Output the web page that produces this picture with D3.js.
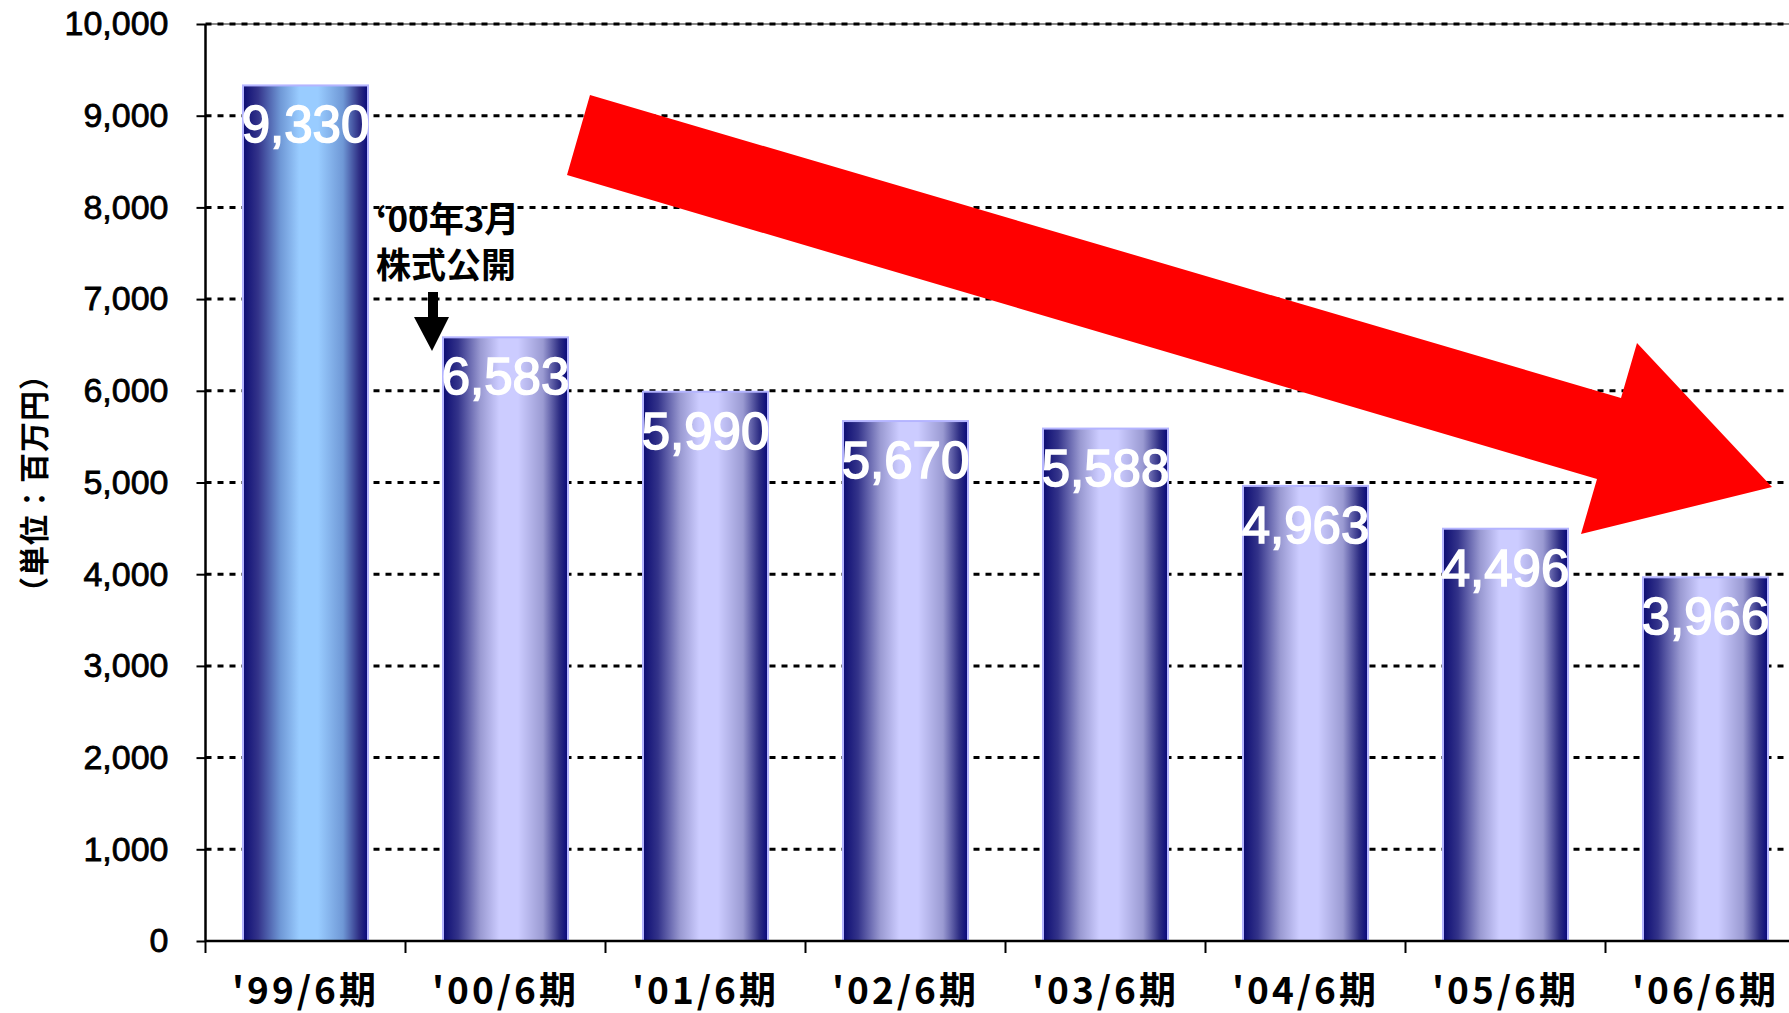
<!DOCTYPE html>
<html>
<head>
<meta charset="utf-8">
<script src="https://cdn.jsdelivr.net/npm/d3@7"></script>
<style>
  html, body { margin: 0; padding: 0; background: #fff; overflow: hidden; }
  svg { display: block; }
</style>
</head>
<body>
<svg id="chart" width="1789" height="1013"></svg>
<script>
// Fiscal periods (June year-end) and amounts in millions of yen
const periods = ["'99/6期", "'00/6期", "'01/6期", "'02/6期", "'03/6期", "'04/6期", "'05/6期", "'06/6期"];
const amounts = [9330, 6583, 5990, 5670, 5588, 4963, 4496, 3966];
const yTicks = [0, 1000, 2000, 3000, 4000, 5000, 6000, 7000, 8000, 9000, 10000];
const unitLabel = "（単位：百万円）";
const ipoNote = ["‘00年3月", "株式公開"];

const svg = d3.select("#chart");
const W = 1789, H = 1013;
const plot = { left: 205.5, top: 24, bottom: 941, right: 1805.5 };

const x = d3.scaleBand().domain(periods)
  .range([plot.left, plot.right])
  .paddingInner(0.375).paddingOuter(0.1875);
const y = d3.scaleLinear().domain([0, 10000]).range([plot.bottom, plot.top]);

const latin = "'Liberation Sans', Arial, Helvetica, sans-serif";
const cjk = "'Noto Sans CJK JP', 'Noto Sans', sans-serif";

// Bar gradients: lighter first year, lavender for the rest
const defs = svg.append("defs");
function cylinder(id, light, mid) {
  const g = defs.append("linearGradient").attr("id", id)
    .attr("x1", "0").attr("x2", "1").attr("y1", "0").attr("y2", "0");
  [[0, "#0c0c72"], [0.12, "#33338a"], [0.3, mid], [0.45, light], [0.6, light],
   [0.8, mid], [0.93, "#2e2e84"], [1, "#08087a"]]
    .forEach(([o, c]) => g.append("stop").attr("offset", o).attr("stop-color", c));
}
cylinder("barFirst", "#99ccff", "#6f98d6");
cylinder("barRest", "#ccccff", "#9a9ad2");

// Horizontal dashed gridlines
svg.append("line")
  .attr("x1", plot.left).attr("x2", W)
  .attr("y1", y(10000)).attr("y2", y(10000))
  .attr("stroke", "#8a8a8a").attr("stroke-width", 2);
svg.append("g").selectAll("line").data(yTicks.filter(d => d > 0)).join("line")
  .attr("x1", plot.left).attr("x2", W)
  .attr("y1", d => y(d)).attr("y2", d => y(d))
  .attr("stroke", "#000").attr("stroke-width", 3)
  .attr("stroke-dasharray", "6,6");

// Bars
svg.append("g").selectAll("rect").data(periods).join("rect")
  .attr("x", d => x(d))
  .attr("y", (d, i) => y(amounts[i]))
  .attr("width", x.bandwidth())
  .attr("height", (d, i) => y(0) - y(amounts[i]))
  .attr("fill", (d, i) => i === 0 ? "url(#barFirst)" : "url(#barRest)")
  .attr("stroke", "#b4b4ff").attr("stroke-width", 2);

// Value labels inside bar tops
svg.append("g").selectAll("text").data(periods).join("text")
  .attr("x", d => x(d) + x.bandwidth() / 2)
  .attr("y", (d, i) => y(amounts[i]) + 57)
  .attr("text-anchor", "middle")
  .attr("fill", "#fff")
  .attr("stroke", "#fff").attr("stroke-width", 1.6)
  .style("font-family", latin).style("font-size", "51px")
  .text((d, i) => d3.format(",")(amounts[i]));

// Y axis
const yAxis = svg.append("g").attr("transform", `translate(${plot.left},0)`)
  .call(d3.axisLeft(y).tickValues(yTicks).tickFormat(d3.format(",")).tickSize(9).tickPadding(28));
yAxis.select(".domain").attr("stroke", "#000").attr("stroke-width", 2.5)
  .attr("d", `M0,${plot.top}V${plot.bottom}`);
yAxis.selectAll(".tick line").attr("stroke", "#000").attr("stroke-width", 2);
yAxis.selectAll(".tick text")
  .attr("fill", "#000").attr("stroke", "#000").attr("stroke-width", 0.8)
  .style("font-family", latin).style("font-size", "34px");

// X axis: baseline, boundary ticks, labels
svg.append("line")
  .attr("x1", plot.left).attr("x2", W)
  .attr("y1", y(0)).attr("y2", y(0))
  .attr("stroke", "#000").attr("stroke-width", 2.5);
svg.append("g").selectAll("line").data(periods).join("line")
  .attr("x1", d => x(d) - x.step() * x.paddingOuter())
  .attr("x2", d => x(d) - x.step() * x.paddingOuter())
  .attr("y1", y(0)).attr("y2", y(0) + 12)
  .attr("stroke", "#000").attr("stroke-width", 2);
svg.append("g").selectAll("text").data(periods).join("text")
  .attr("x", d => x(d) + x.bandwidth() / 2)
  .attr("y", y(0) + 63)
  .attr("text-anchor", "middle")
  .attr("fill", "#000")
  .style("font-family", cjk).style("font-weight", "bold").style("font-size", "37px")
  .style("letter-spacing", "3px")
  .text(d => d);

// Unit label on the left
svg.append("text")
  .attr("transform", `translate(45,483) rotate(-90)`)
  .attr("text-anchor", "middle")
  .attr("fill", "#000")
  .style("font-family", cjk).style("font-weight", "bold").style("font-size", "30px")
  .style("letter-spacing", "1px")
  .text(unitLabel);

// IPO note with a small down arrow
const note = svg.append("g");
note.selectAll("text").data(ipoNote).join("text")
  .attr("x", 376)
  .attr("y", (d, i) => 232 + i * 46)
  .attr("fill", "#000")
  .style("font-family", cjk).style("font-weight", "bold").style("font-size", "35px")
  .text(d => d);
note.append("path")
  .attr("d", "M428,292 H438 V317 H449 L432,351 L414,317 H428 Z")
  .attr("fill", "#000");

// Large red trend arrow
const trend = [
  [590, 95], [1621, 398], [1637, 343], [1772, 487],
  [1581, 534], [1597, 479], [567, 175]
];
svg.append("path")
  .attr("d", d3.line()(trend) + "Z")
  .attr("fill", "#ff0000");
</script>
</body>
</html>
